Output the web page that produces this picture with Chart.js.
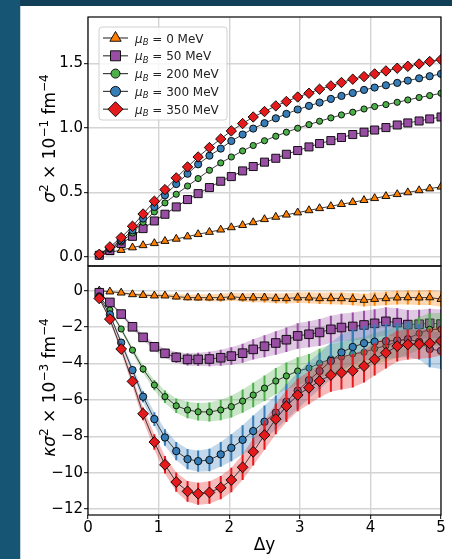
<!DOCTYPE html>
<html><head><meta charset="utf-8">
<script src="https://cdn.jsdelivr.net/npm/chart.js@4.4.1/dist/chart.umd.min.js"></script>
<style>
html,body{margin:0;padding:0;background:#fff;width:452px;height:559px;overflow:hidden;position:relative;}
#topband{position:absolute;left:0;top:0;width:452px;height:6px;background:#123f58;}
#leftband{position:absolute;left:0;top:0;width:20px;height:559px;background:#175574;}
#edge{position:absolute;left:20px;top:6px;width:1px;height:553px;background:#c4d5df;}
#c1wrap{position:absolute;left:20px;top:6px;width:432px;height:262px;}
#c2wrap{position:absolute;left:20px;top:262px;width:432px;height:297px;}
</style></head>
<body>
<div id="c1wrap"><canvas id="c1" width="432" height="262"></canvas></div>
<div id="c2wrap"><canvas id="c2" width="432" height="297"></canvas></div>
<div id="topband"></div><div id="leftband"></div><div id="edge"></div>
<script>
// ---------- data ----------
const DY = [0.16,0.31,0.47,0.63,0.78,0.94,1.09,1.25,1.41,1.56,1.72,1.88,2.03,2.19,2.34,2.50,
            2.66,2.81,2.97,3.13,3.28,3.44,3.59,3.75,3.91,4.06,4.22,4.38,4.53,4.69,4.84,5.00];
const SERIES_NAMES = ["0 MeV","50 MeV","200 MeV","300 MeV","350 MeV"];
const SERIES_COLORS = ["#ff7f00","#984ea3","#4daf4a","#377eb8","#e41a1c"];
const SERIES_BANDS = ["rgba(255,127,0,0.3)","rgba(152,78,163,0.3)","rgba(77,175,74,0.3)","rgba(55,126,184,0.3)","rgba(228,26,28,0.3)"];

// upper panel: sigma^2 x 10^-1 fm^-4
const S2_MU0   = [0.015,0.036,0.053,0.073,0.090,0.106,0.123,0.140,0.158,0.176,0.193,0.211,0.229,0.246,0.268,0.292,
                  0.310,0.327,0.344,0.361,0.377,0.393,0.409,0.424,0.440,0.455,0.471,0.486,0.500,0.516,0.530,0.544];
const S2_MU50  = [0.013,0.050,0.104,0.160,0.220,0.279,0.331,0.388,0.445,0.491,0.538,0.587,0.623,0.667,0.701,0.735,
                  0.765,0.796,0.825,0.853,0.879,0.902,0.926,0.949,0.967,0.984,1.003,1.023,1.039,1.054,1.070,1.085];
const S2_MU200 = [0.020,0.060,0.116,0.186,0.269,0.349,0.419,0.486,0.550,0.608,0.672,0.729,0.775,0.822,0.864,0.901,
                  0.936,0.967,0.998,1.026,1.052,1.078,1.101,1.122,1.147,1.166,1.181,1.199,1.217,1.236,1.251,1.269];
const S2_MU300 = [0.020,0.068,0.130,0.207,0.298,0.388,0.478,0.565,0.645,0.718,0.785,0.840,0.899,0.949,0.995,1.037,
                  1.075,1.109,1.143,1.171,1.197,1.225,1.248,1.271,1.295,1.313,1.331,1.349,1.367,1.385,1.401,1.419];
const S2_MU350 = [0.021,0.078,0.150,0.238,0.333,0.432,0.522,0.613,0.698,0.775,0.848,0.915,0.977,1.034,1.085,1.127,
                  1.171,1.205,1.240,1.269,1.300,1.326,1.352,1.378,1.398,1.419,1.442,1.463,1.478,1.496,1.515,1.530];

// lower panel: kappa sigma^2 x 10^-3 fm^-4, with errors
const K_MU0   = [0.00,-0.05,-0.11,-0.20,-0.24,-0.27,-0.27,-0.33,-0.37,-0.38,-0.38,-0.38,-0.33,-0.38,-0.38,-0.38,
                 -0.42,-0.42,-0.38,-0.38,-0.42,-0.42,-0.42,-0.46,-0.51,-0.46,-0.42,-0.38,-0.37,-0.38,-0.37,-0.46];
const K_MU0_ERR = [0.02,0.04,0.06,0.08,0.10,0.12,0.13,0.15,0.17,0.18,0.20,0.21,0.22,0.23,0.25,0.26,
                   0.27,0.28,0.29,0.30,0.31,0.32,0.33,0.34,0.35,0.36,0.37,0.38,0.39,0.40,0.41,0.42];
const K_MU50  = [-0.11,-0.64,-1.28,-1.98,-2.56,-3.08,-3.44,-3.66,-3.77,-3.77,-3.75,-3.68,-3.59,-3.43,-3.22,-3.05,
                 -2.87,-2.69,-2.48,-2.39,-2.29,-2.12,-2.02,-1.96,-1.88,-1.79,-1.68,-1.75,-1.86,-1.84,-1.79,-1.83];
const K_MU50_ERR = [0.03,0.06,0.09,0.12,0.15,0.20,0.25,0.30,0.33,0.36,0.40,0.44,0.48,0.52,0.56,0.60,
                    0.64,0.67,0.70,0.72,0.74,0.75,0.76,0.77,0.78,0.78,0.78,0.79,0.80,0.80,0.80,0.80];
const K_MU200 = [-0.28,-1.06,-2.10,-3.26,-4.30,-5.18,-5.82,-6.32,-6.55,-6.65,-6.66,-6.55,-6.37,-6.06,-5.73,-5.35,
                 -4.96,-4.68,-4.41,-4.25,-3.99,-3.74,-3.65,-3.47,-3.38,-3.18,-3.02,-2.80,-2.62,-2.34,-2.12,-2.12];
const K_MU200_ERR = [0.03,0.08,0.12,0.17,0.22,0.28,0.34,0.40,0.45,0.48,0.52,0.56,0.60,0.64,0.67,0.70,
                     0.72,0.74,0.76,0.78,0.80,0.82,0.83,0.84,0.85,0.86,0.87,0.88,0.89,0.90,0.90,0.90];
const K_MU300 = [-0.35,-1.30,-2.85,-4.36,-5.82,-7.05,-8.06,-8.81,-9.25,-9.36,-9.30,-8.99,-8.63,-8.19,-7.71,-7.20,
                 -6.70,-6.10,-5.49,-4.91,-4.41,-3.86,-3.39,-3.09,-2.88,-2.80,-2.77,-2.73,-2.67,-2.80,-3.20,-3.30];
const K_MU300_ERR = [0.03,0.10,0.16,0.22,0.30,0.38,0.45,0.50,0.55,0.58,0.62,0.68,0.74,0.80,0.86,0.90,
                     0.94,0.97,1.00,1.00,1.00,1.00,0.98,0.96,0.95,0.95,0.95,0.96,0.97,0.98,1.00,1.00];
const K_MU350 = [-0.42,-1.56,-3.20,-4.98,-6.76,-8.31,-9.56,-10.51,-11.02,-11.15,-11.08,-10.82,-10.40,-9.70,-8.85,-7.93,
                 -7.05,-6.34,-5.73,-5.33,-4.96,-4.63,-4.50,-4.40,-4.14,-3.77,-3.41,-3.04,-2.95,-2.93,-2.89,-2.76];
const K_MU350_ERR = [0.04,0.12,0.20,0.28,0.35,0.42,0.48,0.53,0.57,0.60,0.62,0.64,0.67,0.70,0.75,0.80,
                     0.84,0.87,0.89,0.90,0.91,0.92,0.92,0.92,0.90,0.88,0.86,0.84,0.82,0.80,0.80,0.80];

const X_TICKS = [0,1,2,3,4,5];
const X_TICK_LABELS = ["0","1","2","3","4","5"];
const Y1_TICKS = [0,0.5,1.0,1.5];
const Y1_TICK_LABELS = ["0.0","0.5","1.0","1.5"];
const Y2_TICKS = [0,-2,-4,-6,-8,-10,-12];
const Y2_TICK_LABELS = ["0","\u22122","\u22124","\u22126","\u22128","\u221210","\u221212"];
const X_TITLE = "\u0394y";
// axis titles as [text, kind] segments: n = normal, i = italic, s = superscript
const Y1_TITLE = [["\u03c3","i"],["2","s"],[" \u00d7 10","n"],["\u22121","s"],[" fm","n"],["\u22124","s"]];
const Y2_TITLE = [["\u03ba\u03c3","i"],["2","s"],[" \u00d7 10","n"],["\u22123","s"],[" fm","n"],["\u22124","s"]];

// ---------- styles ----------
Chart.defaults.font.family = "'DejaVu Sans', sans-serif";
const GRID = '#d4d4d4';
const STYLES_TOP = [['triangle',4.6],['rect',5.7],['circle',3.1],['circle',3.6],['rectRot',5.2]];
const STYLES_BOT = [['triangle',4.6],['rect',6.1],['circle',3.1],['circle',3.7],['rectRot',5.4]];
const LINE_COLOR = 'rgba(30,30,30,0.85)';

const TOP_VALUES = [S2_MU0,S2_MU50,S2_MU200,S2_MU300,S2_MU350];
const BOT_VALUES = [K_MU0,K_MU50,K_MU200,K_MU300,K_MU350];
const BOT_ERRS = [K_MU0_ERR,K_MU50_ERR,K_MU200_ERR,K_MU300_ERR,K_MU350_ERR];

const pts = (ys, f) => DY.map((x,i)=>({x:x, y: f ? f(ys[i], i) : ys[i]}));

function markerDataset(i, ys, styles, errs){
  return {
    data: pts(ys), showLine:true, borderColor:LINE_COLOR, borderWidth:1,
    pointStyle:styles[i][0], pointRadius:styles[i][1], pointHoverRadius:styles[i][1],
    pointBackgroundColor:SERIES_COLORS[i], pointBorderColor:'#000', pointBorderWidth:0.9,
    fill:false, order: 100-10*i, errs: errs || null, errColor: SERIES_COLORS[i]
  };
}

const topDatasets = TOP_VALUES.map((v,i)=>markerDataset(i, v, STYLES_TOP));
const botDatasets = [];
BOT_VALUES.forEach((v,i)=>{
  const e = BOT_ERRS[i];
  botDatasets.push({data: pts(v,(y,k)=>y+e[k]), showLine:true, borderColor:'transparent', borderWidth:0,
    pointRadius:0, pointHoverRadius:0, fill:'+1', backgroundColor:SERIES_BANDS[i], order:100-10*i+5});
  botDatasets.push({data: pts(v,(y,k)=>y-e[k]), showLine:true, borderColor:'transparent', borderWidth:0,
    pointRadius:0, pointHoverRadius:0, fill:false, order:100-10*i+6});
  botDatasets.push(markerDataset(i, v, STYLES_BOT, e));
});

// ---------- plugins ----------
const errPlugin = {
  id:'errbars',
  beforeDatasetDraw(chart, args){
    const ds = chart.data.datasets[args.index];
    if(!ds.errs) return;
    const ctx = chart.ctx, a = chart.chartArea, xs = chart.scales.x, ys = chart.scales.y;
    ctx.save();
    ctx.beginPath(); ctx.rect(a.left, a.top, a.right-a.left, a.bottom-a.top); ctx.clip();
    ctx.strokeStyle = ds.errColor; ctx.lineWidth = 2;
    ctx.beginPath();
    ds.data.forEach((p,k)=>{
      const x = xs.getPixelForValue(p.x);
      ctx.moveTo(x, ys.getPixelForValue(p.y - ds.errs[k]));
      ctx.lineTo(x, ys.getPixelForValue(p.y + ds.errs[k]));
    });
    ctx.stroke();
    ctx.restore();
  }
};
const framePlugin = {
  id:'frame',
  afterDatasetsDraw(chart){
    const ctx = chart.ctx, a = chart.chartArea;
    ctx.save(); ctx.strokeStyle = '#000'; ctx.lineWidth = 1.2;
    ctx.strokeRect(a.left, a.top, a.right-a.left, a.bottom-a.top);
    ctx.restore();
  }
};
// rotated y-axis title with superscripts, centred on the plot area
const yTitlePlugin = {
  id:'yTitle',
  afterDraw(chart, args, opts){
    const segs = opts.segments; if(!segs) return;
    const ctx = chart.ctx, a = chart.chartArea;
    const fontFor = (k) => k==='s' ? "12px 'DejaVu Sans'" : (k==='i' ? "italic 17px 'DejaVu Sans'" : "17px 'DejaVu Sans'");
    let total = 0;
    segs.forEach(s=>{ ctx.font = fontFor(s[1]); total += ctx.measureText(s[0]).width; });
    ctx.save();
    ctx.translate(opts.baseX, (a.top + a.bottom)/2 - 3);
    ctx.rotate(-Math.PI/2);
    ctx.fillStyle = '#000'; ctx.textBaseline = 'alphabetic'; ctx.textAlign = 'left';
    let x = -total/2;
    segs.forEach(s=>{
      ctx.font = fontFor(s[1]);
      ctx.fillText(s[0], x, s[1]==='s' ? -7 : 0);
      x += ctx.measureText(s[0]).width;
    });
    ctx.restore();
  }
};
function drawMarker(ctx, style, x, y, r, fill){
  ctx.beginPath();
  if(style==='triangle'){
    ctx.moveTo(x, y-r); ctx.lineTo(x+r*0.866, y+r*0.5); ctx.lineTo(x-r*0.866, y+r*0.5); ctx.closePath();
  } else if(style==='rect'){
    ctx.rect(x-r, y-r, 2*r, 2*r);
  } else if(style==='rectRot'){
    ctx.moveTo(x, y-r); ctx.lineTo(x+r, y); ctx.lineTo(x, y+r); ctx.lineTo(x-r, y); ctx.closePath();
  } else {
    ctx.arc(x, y, r, 0, Math.PI*2);
  }
  ctx.fillStyle = fill; ctx.fill();
  ctx.strokeStyle = '#000'; ctx.lineWidth = 0.9; ctx.stroke();
}
const LEGEND_MARKERS = [['triangle',6.5],['rect',5],['circle',4.5],['circle',5],['rectRot',7.5]];
const legendPlugin = {
  id:'insetLegend',
  afterDraw(chart){
    const ctx = chart.ctx, a = chart.chartArea;
    const x0 = a.left + 11, y0 = a.top + 10, w = 128, h = 93, rad = 3;
    ctx.save();
    ctx.beginPath();
    ctx.moveTo(x0+rad, y0); ctx.lineTo(x0+w-rad, y0); ctx.arcTo(x0+w, y0, x0+w, y0+rad, rad);
    ctx.lineTo(x0+w, y0+h-rad); ctx.arcTo(x0+w, y0+h, x0+w-rad, y0+h, rad);
    ctx.lineTo(x0+rad, y0+h); ctx.arcTo(x0, y0+h, x0, y0+h-rad, rad);
    ctx.lineTo(x0, y0+rad); ctx.arcTo(x0, y0, x0+rad, y0, rad); ctx.closePath();
    ctx.fillStyle = 'rgba(255,255,255,0.8)'; ctx.fill();
    ctx.strokeStyle = '#d0d0d0'; ctx.lineWidth = 1; ctx.stroke();
    SERIES_NAMES.forEach((name,i)=>{
      const cy = y0 + 11 + i*17.8;
      ctx.beginPath(); ctx.moveTo(x0+4, cy); ctx.lineTo(x0+29, cy);
      ctx.strokeStyle = LINE_COLOR; ctx.lineWidth = 1.2; ctx.stroke();
      drawMarker(ctx, LEGEND_MARKERS[i][0], x0+16.5, cy, LEGEND_MARKERS[i][1], SERIES_COLORS[i]);
      ctx.fillStyle = '#222'; ctx.textBaseline = 'alphabetic'; ctx.textAlign = 'left';
      let tx = x0 + 36; const by = cy + 4.5;
      ctx.font = "italic 12px 'DejaVu Sans'"; ctx.fillText('\u03bc', tx, by); tx += ctx.measureText('\u03bc').width;
      ctx.font = "italic 8.5px 'DejaVu Sans'"; ctx.fillText('B', tx, by+2.5); tx += ctx.measureText('B').width;
      ctx.font = "12px 'DejaVu Sans'"; ctx.fillText(' = ' + name, tx, by);
    });
    ctx.restore();
  }
};

const setTicks = (vals) => (s) => { s.ticks = vals.map(v=>({value:v})); };
const labelFor = (vals, labels) => (v) => { const k = vals.findIndex(t=>Math.abs(t-v)<1e-9); return k>=0 ? labels[k] : ''; };

function yAxis(min, max, vals, labels){
  return {
    type:'linear', position:'left', min:min, max:max,
    afterBuildTicks: setTicks(vals),
    ticks:{font:{size:15}, color:'#000', padding:1, callback: labelFor(vals, labels)},
    grid:{color:GRID, lineWidth:1.4, drawTicks:true, tickLength:4, tickColor:'#000', tickWidth:1},
    border:{display:false},
    title:{display:false},
    afterFit:(s)=>{ s.width = 68; s.paddingTop = 0; s.paddingBottom = 0; }
  };
}

new Chart(document.getElementById('c1'), {
  type:'scatter',
  data:{datasets: topDatasets},
  options:{
    responsive:false, animation:false, devicePixelRatio:1,
    layout:{autoPadding:false, padding:{left:0, right:11, top:11, bottom:2}},
    plugins:{legend:{display:false}, tooltip:{enabled:false}, yTitle:{segments:Y1_TITLE, baseX:35}},
    scales:{
      x:{type:'linear', min:0, max:5, afterBuildTicks: setTicks(X_TICKS),
         ticks:{display:false}, grid:{color:GRID, lineWidth:1.4, drawTicks:false}, border:{display:false},
         afterFit:(s)=>{ s.height = 0; s.paddingLeft = 0; s.paddingRight = 0; }},
      y: yAxis(-0.07, 1.86, Y1_TICKS, Y1_TICK_LABELS)
    }
  },
  plugins:[errPlugin, framePlugin, legendPlugin, yTitlePlugin]
});

new Chart(document.getElementById('c2'), {
  type:'scatter',
  data:{datasets: botDatasets},
  options:{
    responsive:false, animation:false, devicePixelRatio:1,
    layout:{autoPadding:false, padding:{left:0, right:11, top:4, bottom:0}},
    plugins:{legend:{display:false}, tooltip:{enabled:false}, filler:{propagate:false}, yTitle:{segments:Y2_TITLE, baseX:35}},
    scales:{
      x:{type:'linear', min:0, max:5, afterBuildTicks: setTicks(X_TICKS),
         ticks:{font:{size:15}, color:'#000', padding:0, maxRotation:0, callback: labelFor(X_TICKS, X_TICK_LABELS)},
         grid:{color:GRID, lineWidth:1.4, drawTicks:true, tickLength:4, tickColor:'#000', tickWidth:1},
         border:{display:false},
         title:{display:true, text:X_TITLE, color:'#000', font:{size:17}, padding:{top:0, bottom:3}},
         afterFit:(s)=>{ s.height = 44; s.paddingLeft = 0; s.paddingRight = 0; }},
      y: yAxis(-12.32, 1.36, Y2_TICKS, Y2_TICK_LABELS)
    }
  },
  plugins:[errPlugin, framePlugin, yTitlePlugin]
});
</script>
</body></html>
